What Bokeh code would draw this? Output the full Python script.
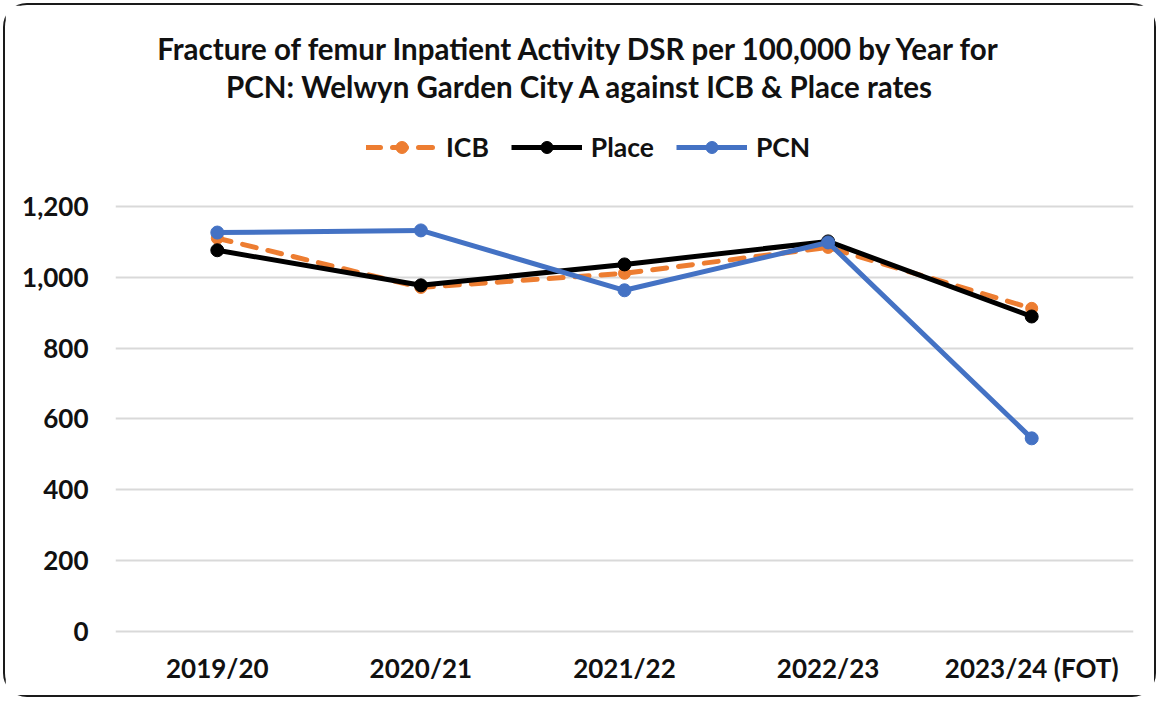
from bokeh.plotting import figure
from bokeh.models import Range1d, FactorRange, Legend, LegendItem, NumeralTickFormatter, FixedTicker, Label
from bokeh.embed import file_html
from bokeh.resources import INLINE

years = ["2019/20", "2020/21", "2021/22", "2022/23", "2023/24 (FOT)"]
icb = [1110, 971, 1011, 1084, 912]
place = [1076, 977, 1036, 1101, 889]
pcn = [1126, 1132, 963, 1098, 545]
y_ticks = [0, 200, 400, 600, 800, 1000, 1200]
title_lines = ["Fracture of femur Inpatient Activity DSR per 100,000 by Year for",
               "PCN: Welwyn Garden City A against ICB & Place rates"]

FONT = "Lato"
TXT = "#111111"
PX_PER_UNIT = 425 / 1200.0
Y0_PAGE = 631.0

def page_to_data(py):
    return (Y0_PAGE - py) / PX_PER_UNIT

p = figure(width=1153, height=694, output_backend="svg", toolbar_location=None,
           x_range=FactorRange(*years, range_padding=0), y_range=Range1d(-6, 1767),
           min_border_left=110, min_border_right=25, min_border_bottom=66, min_border_top=0)
p.title.text = ""
p.styles = {"border": "2px solid #1a1a1a", "border-radius": "24px", "margin": "3px 0 0 3px"}

p.outline_line_color = None
p.xgrid.grid_line_color = None
p.ygrid.grid_line_color = "#D9D9D9"
p.ygrid.grid_line_width = 2
p.yaxis.ticker = FixedTicker(ticks=y_ticks)
p.yaxis.formatter = NumeralTickFormatter(format="0,0")
for ax in (p.xaxis, p.yaxis):
    ax.axis_line_color = None
    ax.major_tick_line_color = None
    ax.minor_tick_line_color = None
    ax.major_label_text_font = FONT
    ax.major_label_text_font_size = "26px"
    ax.major_label_text_font_style = "bold"
    ax.major_label_text_color = TXT
p.yaxis.major_label_standoff = 21
p.xaxis.major_label_standoff = 12

for txt, base in zip(title_lines, [48, 86]):
    p.add_layout(Label(x=465, y=page_to_data(base), x_units="screen", y_units="data", text=txt,
                       text_align="center", text_baseline="alphabetic", text_font=FONT,
                       text_font_size="29.5px", text_font_style="bold", text_color=TXT))

l1 = p.line(years, icb, line_color="#ED7D31", line_width=5, line_dash="14 12", line_cap="round")
s1 = p.scatter(years, icb, size=12, fill_color="#ED7D31", line_color="#ED7D31")
l2 = p.line(years, place, line_color="#000000", line_width=5)
s2 = p.scatter(years, place, size=13, fill_color="#000000", line_color="#000000")
l3 = p.line(years, pcn, line_color="#4472C4", line_width=5)
s3 = p.scatter(years, pcn, size=13, fill_color="#4472C4", line_color="#4472C4")

legend = Legend(items=[LegendItem(label="ICB", renderers=[l1, s1]),
                       LegendItem(label="Place", renderers=[l2, s2]),
                       LegendItem(label="PCN", renderers=[l3, s3])],
                orientation="horizontal", location=(251, 470),
                label_text_font=FONT, label_text_font_size="26.5px", label_text_font_style="bold",
                label_text_color=TXT, glyph_width=71, glyph_height=30, label_height=30,
                label_standoff=9, spacing=22, border_line_color=None, background_fill_alpha=0,
                margin=0, padding=0)
p.add_layout(legend)

open("out.html", "w").write(file_html(p, INLINE))
